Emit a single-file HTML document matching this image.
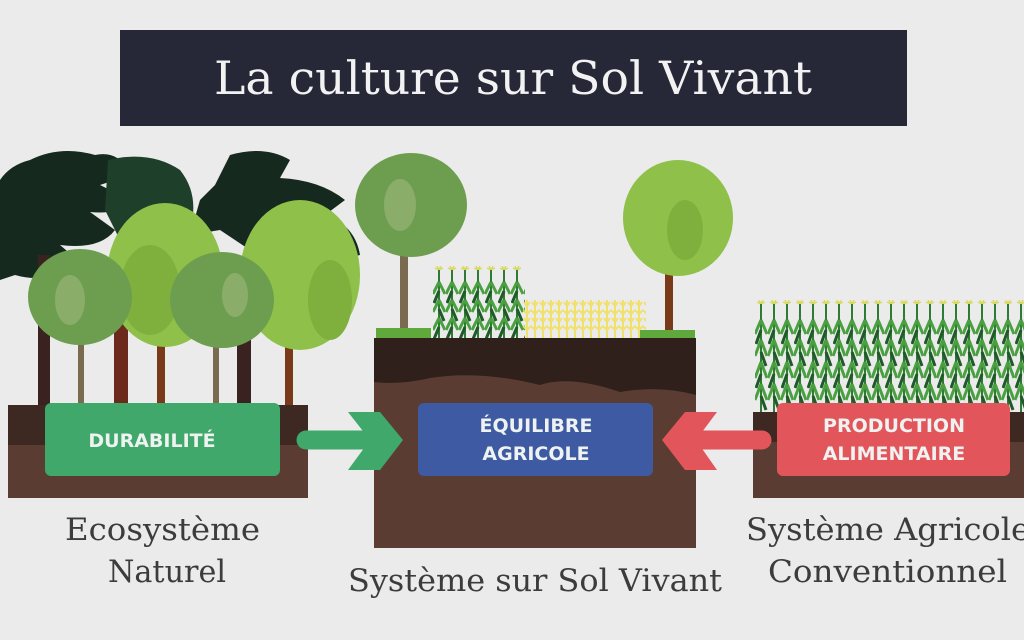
<!DOCTYPE html>
<html><head><meta charset="utf-8">
<style>
html,body{margin:0;padding:0;background:#ebebeb;}
svg{display:block;}
.lab{font-family:"DejaVu Serif","Liberation Serif",serif;fill:#3c3c3c;}
.btn{font-family:"DejaVu Sans","Liberation Sans",sans-serif;font-weight:bold;fill:#eef2f0;}
</style></head>
<body>
<svg width="1024" height="640" viewBox="0 0 1024 640" xmlns="http://www.w3.org/2000/svg">
<defs>
<pattern id="corn1" x="433" y="266" width="13" height="80" patternUnits="userSpaceOnUse">
  <path d="M6 4 L4 0 M6 4 L8 0 M6 4 L2 2 M6 4 L10 2" stroke="#d8d860" stroke-width="1.5" fill="none"/>
  <line x1="6" y1="4" x2="6" y2="80" stroke="#2f7a34" stroke-width="2"/>
  <path d="M6 16 L0 28 M6 16 L12 28 M6 34 L0 46 M6 34 L12 46 M6 52 L0 64 M6 52 L12 64" stroke="#4aa041" stroke-width="3" fill="none"/>
  <path d="M6 25 L1 37 M6 43 L11 55 M6 61 L1 73" stroke="#1f5a28" stroke-width="3" fill="none"/>
</pattern>
<pattern id="corn2" x="755" y="300" width="13" height="120" patternUnits="userSpaceOnUse">
  <path d="M6 4 L4 0 M6 4 L8 0 M6 4 L2 2 M6 4 L10 2" stroke="#d8d860" stroke-width="1.5" fill="none"/>
  <line x1="6" y1="4" x2="6" y2="120" stroke="#2f7a34" stroke-width="2"/>
  <path d="M6 20 L0 34 M6 20 L12 34 M6 40 L0 56 M6 40 L12 56 M6 62 L0 78 M6 62 L12 78 M6 84 L0 100 M6 84 L12 100" stroke="#4aa041" stroke-width="3" fill="none"/>
  <path d="M6 30 L1 44 M6 52 L11 66 M6 74 L1 88 M6 96 L11 110" stroke="#1f5a28" stroke-width="3" fill="none"/>
</pattern>
<pattern id="wheat" x="523" y="300" width="8" height="40" patternUnits="userSpaceOnUse">
  <path d="M4 0 L4 40 M4 6 L1 2 M4 6 L7 2 M4 14 L0 10 M4 14 L8 10 M4 22 L1 18 M4 22 L7 18 M4 30 L0 26 M4 30 L8 26" stroke="#f0e060" stroke-width="2" fill="none"/>
</pattern>
</defs>
<rect width="1024" height="640" fill="#ebebeb"/>
<!-- title -->
<rect x="120" y="30" width="787" height="96" fill="#262737"/>
<text x="513" y="94" text-anchor="middle" font-family="DejaVu Serif, Liberation Serif, serif" font-size="46" fill="#f2f2f2" textLength="598" lengthAdjust="spacingAndGlyphs">La culture sur Sol Vivant</text>

<!-- LEFT forest -->
<g fill="#16291f">
  <path d="M30 160 Q60 145 95 155 Q120 150 130 175 L100 185 L130 200 Q120 215 90 212 L115 230 Q100 250 60 245 L80 262 Q50 285 15 275 L0 280 L0 180 Q10 165 30 160Z"/>
  <path d="M230 155 Q265 145 290 160 L280 178 Q320 180 345 200 L325 215 Q355 225 360 255 L330 262 L300 240 L250 250 L220 230 L190 235 L200 200 L215 185 Z"/>
</g>
<path d="M108 160 Q150 150 180 170 Q200 195 190 230 L170 250 L120 240 L105 210 Z" fill="#1e3f2a"/>
<g>
  <rect x="38" y="255" width="12" height="150" fill="#3a2220"/>
  <rect x="114" y="320" width="14" height="85" fill="#6b2a1c"/>
  <rect x="237" y="320" width="14" height="85" fill="#3a2220"/>
  <rect x="78" y="330" width="6" height="75" fill="#7a6a50"/>
  <rect x="213" y="330" width="6" height="75" fill="#7a6a50"/>
  <rect x="157" y="320" width="8" height="85" fill="#7a3a1a"/>
  <rect x="285" y="330" width="8" height="75" fill="#7a3a1a"/>
</g>
<ellipse cx="165" cy="275" rx="58" ry="72" fill="#8ec04a"/>
<ellipse cx="150" cy="290" rx="30" ry="45" fill="#7fb03e"/>
<ellipse cx="300" cy="275" rx="60" ry="75" fill="#8ec04a"/>
<ellipse cx="330" cy="300" rx="22" ry="40" fill="#7fb03e"/>
<ellipse cx="80" cy="297" rx="52" ry="48" fill="#6d9e50"/>
<ellipse cx="70" cy="300" rx="15" ry="25" fill="#8aae6a"/>
<ellipse cx="222" cy="300" rx="52" ry="48" fill="#6d9e50"/>
<ellipse cx="235" cy="295" rx="13" ry="22" fill="#8aae6a"/>

<!-- left soil -->
<rect x="8" y="405" width="300" height="93" fill="#5a3c32"/>
<rect x="8" y="405" width="300" height="40" fill="#3e2822"/>

<!-- CENTER system -->
<rect x="400" y="240" width="8" height="100" fill="#7a6a50"/>
<ellipse cx="411" cy="205" rx="56" ry="52" fill="#6d9e50"/>
<ellipse cx="400" cy="205" rx="16" ry="26" fill="#8aae6a"/>
<rect x="665" y="260" width="8" height="80" fill="#7a3a1a"/>
<ellipse cx="678" cy="218" rx="55" ry="58" fill="#8ec04a"/>
<ellipse cx="685" cy="230" rx="18" ry="30" fill="#7fb03e"/>
<rect x="433" y="266" width="92" height="73" fill="url(#corn1)"/>
<rect x="523" y="300" width="123" height="38" fill="url(#wheat)" opacity="0.9"/>
<rect x="376" y="328" width="55" height="12" fill="#5ea83c"/>
<rect x="640" y="330" width="55" height="10" fill="#5ea83c"/>
<rect x="374" y="338" width="322" height="210" fill="#5a3c32"/>
<path d="M374 338 H696 V395 Q660 385 620 392 Q570 375 540 385 Q480 370 430 378 Q400 385 374 382Z" fill="#2f201b"/>

<!-- RIGHT corn -->
<rect x="755" y="300" width="269" height="115" fill="url(#corn2)"/>
<rect x="753" y="412" width="271" height="86" fill="#5a3c32"/>
<rect x="753" y="412" width="271" height="30" fill="#3e2822"/>

<!-- arrows -->
<line x1="306" y1="440" x2="372" y2="440" stroke="#3fa86a" stroke-width="19" stroke-linecap="round"/>
<polygon points="348,412 380,412 403,440 380,470 348,470 370,440" fill="#3fa86a"/>
<line x1="690" y1="440" x2="762" y2="440" stroke="#e2555b" stroke-width="19" stroke-linecap="round"/>
<polygon points="717,412 685,412 662,440 685,470 717,470 696,440" fill="#e2555b"/>

<!-- boxes -->
<rect x="45" y="403" width="235" height="73" rx="6" fill="#3fa86a"/>
<text class="btn" x="152" y="447" text-anchor="middle" font-size="19">DURABILITÉ</text>
<rect x="418" y="403" width="235" height="73" rx="6" fill="#3d5aa3"/>
<text class="btn" x="536" y="432" text-anchor="middle" font-size="19">ÉQUILIBRE</text>
<text class="btn" x="536" y="460" text-anchor="middle" font-size="19">AGRICOLE</text>
<rect x="777" y="403" width="233" height="73" rx="6" fill="#e2555b"/>
<text class="btn" x="894" y="432" text-anchor="middle" font-size="19">PRODUCTION</text>
<text class="btn" x="894" y="460" text-anchor="middle" font-size="19">ALIMENTAIRE</text>

<!-- labels -->
<text class="lab" x="65" y="540" font-size="31" textLength="195" lengthAdjust="spacingAndGlyphs">Ecosystème</text>
<text class="lab" x="108" y="582" font-size="31" textLength="118" lengthAdjust="spacingAndGlyphs">Naturel</text>
<text class="lab" x="348" y="591" font-size="31" textLength="374" lengthAdjust="spacingAndGlyphs">Système sur Sol Vivant</text>
<text class="lab" x="746" y="540" font-size="31" textLength="284" lengthAdjust="spacingAndGlyphs">Système Agricole</text>
<text class="lab" x="768" y="582" font-size="31" textLength="239" lengthAdjust="spacingAndGlyphs">Conventionnel</text>
</svg>
</body></html>
